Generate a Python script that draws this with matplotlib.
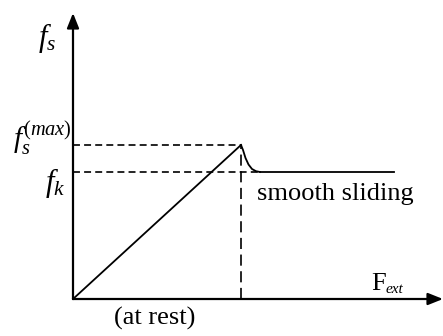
import matplotlib
matplotlib.use("Agg")
import matplotlib.pyplot as plt

plt.rcParams['mathtext.fontset'] = 'custom'
plt.rcParams['mathtext.rm'] = 'Liberation Serif'
plt.rcParams['mathtext.it'] = 'Liberation Serif:italic'
plt.rcParams['font.family'] = 'Liberation Serif'
plt.rcParams['lines.scale_dashes'] = False

# schematic values (arbitrary units)
f_s_max = 154
f_k = 127
F_peak = 168
F_flat_end = 321
x_axis_end = 370
y_axis_end = 286

rest_F = [0, F_peak]
rest_f = [0, f_s_max]
drop_F = [F_peak, 170.0, 172.5, 175.5, 179.0, 183.0, 187.0]
drop_f = [f_s_max, 149.0, 141.0, 134.5, 130.0, 127.8, f_k]
slide_F = [187.0, F_flat_end]
slide_f = [f_k, f_k]

fig = plt.figure(figsize=(4.43, 3.36), dpi=100)
ax = fig.add_axes([0, 0, 1, 1])
ax.set_xlim(-73, 370)
ax.set_ylim(-37, 299)
ax.axis('off')

arrow = dict(arrowstyle='-|>,head_length=0.45,head_width=0.18', mutation_scale=20,
             lw=1.6, color='black', shrinkA=0, shrinkB=0)
ax.annotate('', xy=(0, y_axis_end), xytext=(0, 0), arrowprops=arrow)
ax.annotate('', xy=(x_axis_end, 0), xytext=(0, 0), arrowprops=arrow)

ax.plot(rest_F, rest_f, color='black', lw=1.3)
ax.plot(drop_F, drop_f, color='black', lw=1.3)
ax.plot(slide_F, slide_f, color='black', lw=1.3)

ax.plot([0, F_peak], [f_s_max, f_s_max], color='black', lw=1.2, dashes=(5, 3))
ax.plot([0, 187], [f_k, f_k], color='black', lw=1.2, dashes=(5, 3))
ax.plot([F_peak, F_peak], [0, f_s_max], color='black', lw=1.2, dashes=(8, 4))

ax.text(-25.5, 261, r'$f_s$', fontsize=22, ha='center', va='center')
ax.text(-31, 161, r'$f_s^{(max)}$', fontsize=21, ha='center', va='center')
ax.text(-18, 116, r'$f_k$', fontsize=22, ha='center', va='center')
ax.text(184, 99, 'smooth sliding', fontsize=19, ha='left', va='baseline')
ax.text(82, -26, '(at rest)', fontsize=19, ha='center', va='baseline')
ax.text(298, 9, 'F', fontsize=19, ha='left', va='baseline')
ax.text(313, 6, 'ext', fontsize=11, style='italic', ha='left', va='baseline')

fig.savefig('out.png', dpi=100)
